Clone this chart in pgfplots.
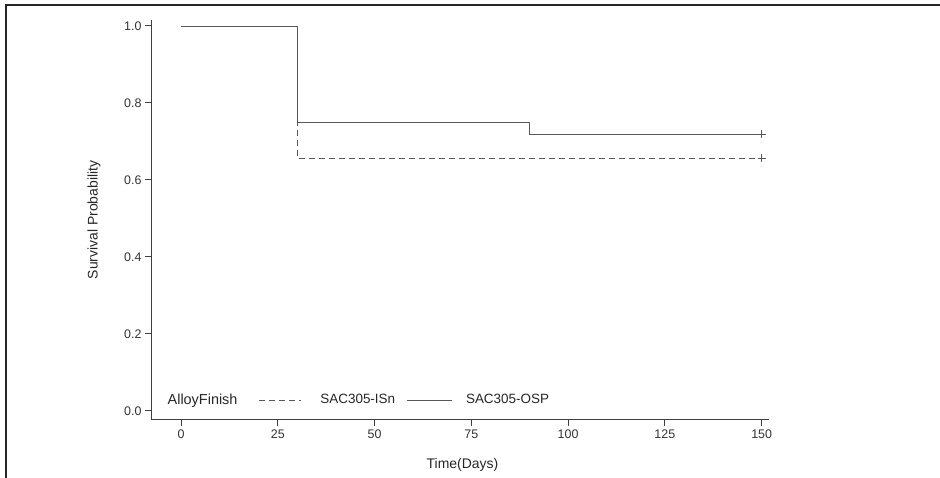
\documentclass[border=0pt]{standalone}
\usepackage{fontspec}
\setmainfont{Liberation Sans}
\usepackage{pgfplots}
\pgfplotsset{compat=1.18}
\definecolor{Ax}{HTML}{404040}
\definecolor{Ln}{HTML}{585858}
\pgfplotsset{
  leg42/.style={legend image code/.code={\draw[##1] (0bp,0bp) -- (42bp,0bp); \path (47bp,0bp);}},
  leg45/.style={legend image code/.code={\draw[##1] (0bp,0bp) -- (45bp,0bp);}},
}

\begin{document}
\begin{tikzpicture}[x=1bp,y=1bp]
\path[use as bounding box] (0,0) rectangle (940,478);
\draw[line width=1.6bp,black!85] (6,0) -- (6,473) -- (940,473);
\begin{axis}[
  at={(151bp,58bp)}, anchor=south west,
  scale only axis, width=618bp, height=400bp,
  xmin=-7.75, xmax=151.9, ymin=-0.0234, ymax=1.0156,
  axis x line*=bottom, axis y line*=left,
  axis line style={-,Ax,line width=1bp},
  xtick={0,25,50,75,100,125,150},
  ytick={0,0.2,0.4,0.6,0.8,1.0},
  yticklabel style={/pgf/number format/.cd,fixed,fixed zerofill,precision=1},
  /pgf/number format/assume math mode=true,
  tick align=outside, major tick length=6bp,
  tick style={Ax,line width=1bp},
  tick label style={font=\fontsize{12.5}{14}\selectfont, text=black!80},
  xlabel={Time(Days)}, ylabel={Survival Probability},
  every axis x label/.style={at={(axis description cs:0.504,-0.112)},anchor=center,
    font=\fontsize{14}{16}\selectfont, text=black!85},
  every axis y label/.style={at={(axis description cs:-0.0922,0.5)},rotate=90,anchor=center,
    font=\fontsize{14}{16}\selectfont, text=black!85},
  legend columns=-1,
  legend style={draw=none, fill=none, inner sep=0pt,
    at={(axis description cs:0.004,0.05)}, anchor=west,
    font=\fontsize{13.5}{15}\selectfont, text=black!85,
    /tikz/every odd column/.append style={column sep=12bp},
    /tikz/every even column/.append style={column sep=9bp}},
]
\addlegendimage{empty legend}
\addlegendentry{\fontsize{14.5}{15}\selectfont AlloyFinish\kern10bp}
\addplot[const plot, Ln, line width=0.9bp, dash pattern=on 6bp off 4bp, leg42]
  coordinates {(0,1) (30,0.65625) (150,0.65625)};
\addlegendentry{SAC305-ISn}
\addplot[const plot, Ln, line width=0.9bp, leg45]
  coordinates {(0,1) (30,0.75) (90,0.71875) (150,0.71875)};
\addlegendentry{SAC305-OSP}
\addplot[only marks, mark=+, mark size=4bp, Ln, line width=0.9bp, forget plot]
  coordinates {(150,0.65625) (150,0.71875)};
\end{axis}
\end{tikzpicture}
\end{document}
